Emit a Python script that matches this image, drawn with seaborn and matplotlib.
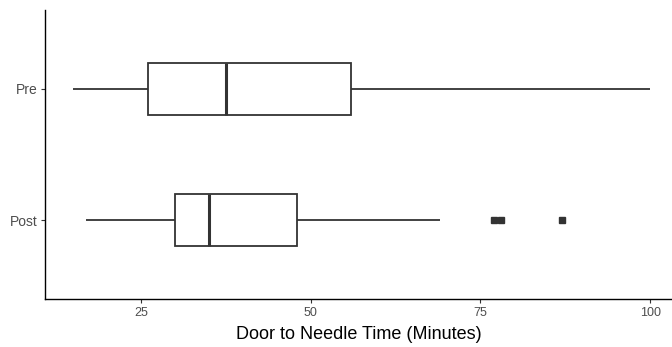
import pandas as pd
import seaborn as sns
import matplotlib.pyplot as plt

# Valores (minutos)
pre_times = [15, 20, 26, 31, 37.5, 45, 56, 70, 100]
post_times = [17, 22, 26, 28, 30, 31, 33, 34, 35, 38, 42, 45, 48, 69, 77, 78, 87]
groups = ['Pre', 'Post']
x_ticks = [25, 50, 75, 100]

df = pd.DataFrame({
    'time': pre_times + post_times,
    'group': ['Pre'] * len(pre_times) + ['Post'] * len(post_times),
})

sns.set_style("white")
plt.rcParams['font.family'] = ['Liberation Sans', 'DejaVu Sans']

fig = plt.figure(figsize=(6.72, 3.47), dpi=100)
ax = fig.add_axes([45 / 672, 1 - 299 / 347, 627 / 672, 289 / 347])

line_col = '#333333'
sns.boxplot(data=df, x='time', y='group', order=groups, orient='h', ax=ax,
            width=0.4, whis=1.5, color='white', linecolor=line_col, linewidth=1.3,
            showcaps=False,
            medianprops=dict(color=line_col, linewidth=2.2),
            flierprops=dict(marker='s', markersize=4, markerfacecolor=line_col,
                            markeredgecolor=line_col))

ax.set_xlim(10.9, 103.2)
ax.set_ylim(1.6, -0.6)
ax.set_xticks(x_ticks)
ax.set_xlabel('Door to Needle Time (Minutes)', fontsize=13, color='black', labelpad=5)
ax.set_ylabel('')

for side in ['top', 'right']:
    ax.spines[side].set_visible(False)
for side in ['left', 'bottom']:
    ax.spines[side].set_color('black')
    ax.spines[side].set_linewidth(1.0)

ax.tick_params(axis='both', which='major', direction='out', length=3, width=0.8,
               color='#333333', labelcolor='#4D4D4D', pad=3,
               bottom=True, left=True)
ax.tick_params(axis='x', labelsize=9)
ax.tick_params(axis='y', labelsize=10, pad=2)

fig.savefig('out.png', dpi=100)
